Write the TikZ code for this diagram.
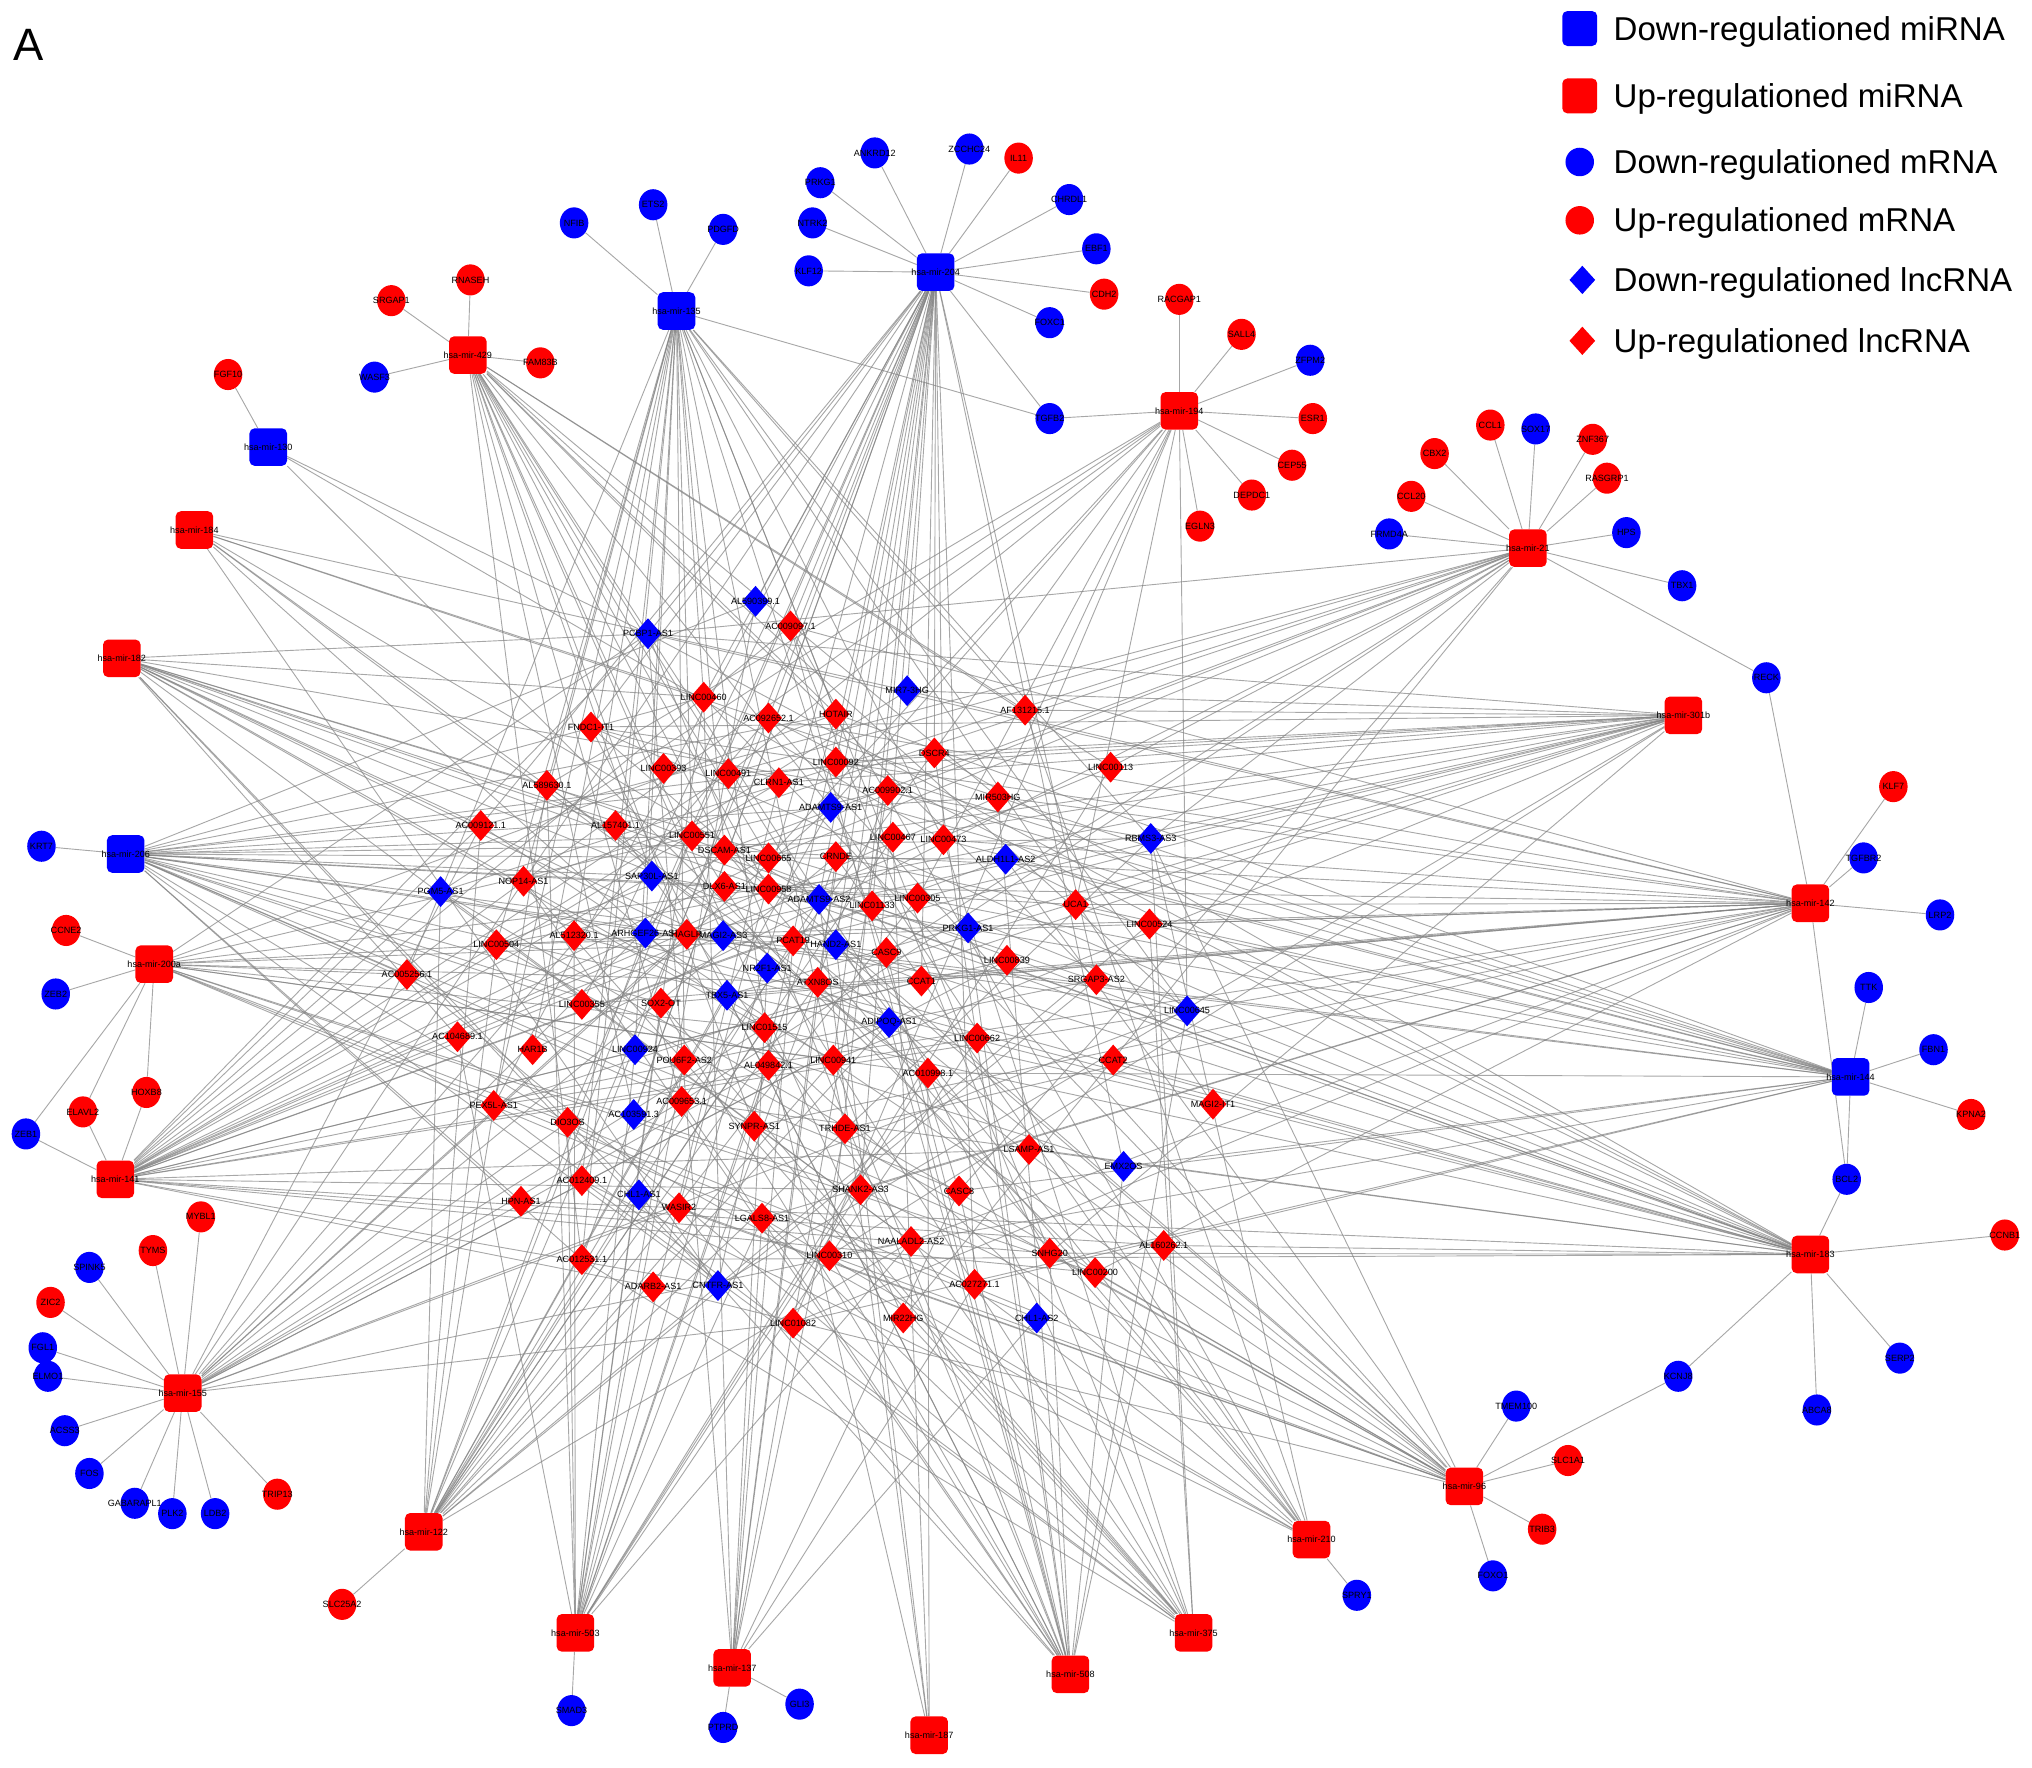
\documentclass[tikz,border=0pt]{standalone}
\usepackage{fontspec}
\setmainfont{Liberation Sans}
\usetikzlibrary{shapes.geometric}
\pgfdeclarelayer{bg}
\pgfdeclarelayer{paper}
\pgfsetlayers{paper,bg,main}
\definecolor{colB}{RGB}{0,0,255}
\definecolor{colR}{RGB}{255,0,0}
\definecolor{edgec}{RGB}{130,130,130}
\tikzset{
  lab/.style={font=\fontsize{7}{7}\selectfont, text=black, inner sep=0pt},
  txt/.style={label={[lab]center:#1}},
  mir/.style={rectangle, rounded corners=4pt, minimum width=29pt, minimum height=29pt, inner sep=0pt, fill=#1},
  mrn/.style={ellipse, minimum width=22pt, minimum height=24pt, inner sep=0pt, fill=#1},
  lnc/.style={diamond, minimum width=21pt, minimum height=24pt, inner sep=0pt, fill=#1},
  edge/.style={draw=edgec, line width=0.7pt, opacity=0.7},
  legtext/.style={font=\fontsize{25.5}{26}\selectfont, inner sep=0pt, anchor=base west}
}
\begin{document}
\begin{tikzpicture}[x=1pt,y=-1pt]
\useasboundingbox (0,0) rectangle (1568,1364);
\begin{pgfonlayer}{paper}
\fill[white] (0,0) rectangle (1568,1364);
\end{pgfonlayer}
\node[font=\fontsize{35}{35}\selectfont, inner sep=0pt, anchor=base west] (panel) at (10,47) {A};
% legend
\node[mir=colB, minimum width=27pt, minimum height=27pt] (lg1) at (1219,22) {};
\node[legtext] (lt1) at (1245,31) {Down-regulationed miRNA};
\node[mir=colR, minimum width=27pt, minimum height=27pt] (lg2) at (1219,74) {};
\node[legtext] (lt2) at (1245,83) {Up-regulationed miRNA};
\node[circle, minimum size=22pt, inner sep=0pt, fill=colB] (lg3) at (1219,125) {};
\node[legtext] (lt3) at (1245,134) {Down-regulationed mRNA};
\node[circle, minimum size=22pt, inner sep=0pt, fill=colR] (lg4) at (1219,170) {};
\node[legtext] (lt4) at (1245,179) {Up-regulationed mRNA};
\node[lnc=colB, minimum width=20pt, minimum height=22pt] (lg5) at (1221,216) {};
\node[legtext] (lt5) at (1245,225) {Down-regulationed lncRNA};
\node[lnc=colR, minimum width=20pt, minimum height=22pt] (lg6) at (1221,263) {};
\node[legtext] (lt6) at (1245,272) {Up-regulationed lncRNA};

% miRNAs
\foreach \n/\x/\y/\c/\t in {
 m135/522/240/colB/hsa-mir-135, m204/722/210/colB/hsa-mir-204, m130/207/345/colB/hsa-mir-130,
 m206/97/659/colB/hsa-mir-206, m144/1428/831/colB/hsa-mir-144,
 m429/361/274/colR/hsa-mir-429, m184/150/409/colR/hsa-mir-184, m182/94/508/colR/hsa-mir-182,
 m200a/119/744/colR/hsa-mir-200a, m141/89/910/colR/hsa-mir-141, m155/141/1075/colR/hsa-mir-155,
 m122/327/1182/colR/hsa-mir-122, m503/444/1260/colR/hsa-mir-503, m137/565/1287/colR/hsa-mir-137,
 m187/717/1339/colR/hsa-mir-187, m508/826/1292/colR/hsa-mir-508, m375/921/1260/colR/hsa-mir-375,
 m210/1012/1188/colR/hsa-mir-210, m96/1130/1147/colR/hsa-mir-96, m183/1397/968/colR/hsa-mir-183,
 m142/1397/697/colR/hsa-mir-142, m301b/1299/552/colR/hsa-mir-301b, m21/1179/423/colR/hsa-mir-21,
 m194/910/317/colR/hsa-mir-194}
 { \node[mir=\c, txt=\t] (\n) at (\x,\y) {}; }

% mRNAs
\foreach \n/\x/\y/\c/\t in {
 NFIB/443/172/colB/NFIB, ETSb/504/158/colB/ETS2, PDGFD/558/177/colB/PDGFD,
 ANKRD/675/118/colB/ANKRD12, ZCCHC/748/115/colB/ZCCHC24, IL11/786/122/colR/IL11,
 PRKG/633/141/colB/PRKG1, NTRK/627/172/colB/NTRK2, KLF12/624/209/colB/KLF12,
 CHRDL/825/154/colB/CHRDL1, EBF1/846/192/colB/EBF1, CDH2/852/227/colR/CDH2,
 FOXC/810/249/colB/FOXC1, TGFB/810/323/colB/TGFB2,
 RACGAP/910/231/colR/RACGAP1, SALL/958/258/colR/SALL4, ZFPM/1011/278/colB/ZFPM2,
 ESR/1013/323/colR/ESR1, CEP/997/359/colR/CEP55, DEPDC/966/382/colR/DEPDC1, EGLN/926/406/colR/EGLN3,
 CBX/1107/350/colR/CBX2, CCLa/1150/328/colR/CCL1, SOX/1185/331/colB/SOX17, ZNF/1229/339/colR/ZNF367,
 RASG/1240/369/colR/RASGRP1, CCLb/1089/383/colR/CCL20, FRMD/1072/412/colB/FRMD4A, HPS/1255/411/colB/HPS,
 TBX/1298/452/colB/TBX1, RECK/1363/523/colB/RECK,
 KLF7/1461/607/colR/KLF7, TGFBR/1438/662/colB/TGFBR2, LRP/1497/706/colB/LRP2,
 TTK/1442/762/colB/TTK, FBN/1492/810/colB/FBN1, KPNA/1521/860/colR/KPNA2, BCL/1425/910/colB/BCL2,
 CCNB/1547/953/colR/CCNB1, SERP/1466/1048/colB/SERP2, ABCA/1402/1088/colB/ABCA8, KCNJ/1295/1062/colB/KCNJ8,
 TMEM/1170/1085/colB/TMEM100, SLC1/1210/1127/colR/SLC1A1, TRIB/1190/1180/colR/TRIB3, FOXO/1152/1216/colB/FOXO1,
 SPRY/1047/1231/colB/SPRY1, PTPRD/558/1333/colB/PTPRD, GLI/617/1315/colB/GLI3, SMAD/441/1320/colB/SMAD3,
 SLC25/264/1238/colR/SLC25A2,
 MYBL/155/939/colR/MYBL1, TYMS/118/965/colR/TYMS, SPINK/69/978/colB/SPINK5, ZIC/39/1005/colR/ZIC2,
 FGL/33/1040/colB/FGL1, ELMO/37/1062/colB/ELMO1, ACSS/50/1104/colB/ACSS3, FOS/69/1137/colB/FOS,
 GABA/104/1160/colB/GABARAPL1, PLK/133/1168/colB/PLK2, LDB/166/1168/colB/LDB2, TRIP/214/1153/colR/TRIP13,
 CCNE/51/718/colR/CCNE2, ZEBb/43/767/colB/ZEB2, ELAV/64/858/colR/ELAVL2, HOXB/113/843/colR/HOXB8,
 ZEBa/20/875/colB/ZEB1, KRT/32/653/colB/KRT7, FGF/176/289/colR/FGF10,
 SRGAP/302/232/colR/SRGAP1, RNASE/363/216/colR/RNASEH, FAM/417/280/colR/FAM83B, WASF/289/291/colB/WASF3}
 { \node[mrn=\c, txt=\t] (\n) at (\x,\y) {}; }

% lncRNAs
\foreach [count=\i] \x/\y/\c/\t in {
 583/464/colB/AL590399.1, 500/489/colB/PCBP1-AS1, 700/533/colB/MIR7-3HG, 641/623/colB/ADAMTS9-AS1,
 888/647/colB/RBMS3-AS3, 776/663/colB/ALDH1L1-AS2, 340/688/colB/PGM5-AS1, 503/676/colB/SAP30L-AS1,
 632/694/colB/ADAMTS9-AS2, 747/716/colB/PRKG1-AS1, 498/720/colB/ARHGEF26-AS1, 558/722/colB/MAGI2-AS3,
 645/729/colB/HAND2-AS1, 592/747/colB/NR2F1-AS1, 561/768/colB/TBX5-AS1, 686/789/colB/ADIPOQ-AS1,
 490/810/colB/LINC00924, 916/780/colB/LINC00645, 489/860/colB/AC103591.3, 867/900/colB/EMX2OS,
 493/922/colB/CHL1-AS1, 554/992/colB/CNTFR-AS1, 800/1017/colB/CHL1-AS2,
 610/483/colR/AC009097.1, 543/538/colR/LINC00460, 593/554/colR/AC092652.1, 645/551/colR/HOTAIR,
 791/548/colR/AF131215.1, 456/561/colR/FNDC1-IT1, 721/581/colR/DSCR4, 512/593/colR/LINC00393,
 562/597/colR/LINC00491, 601/604/colR/CLRN1-AS1, 645/588/colR/LINC00092, 685/610/colR/AC009902.1,
 857/592/colR/LINC00113, 770/615/colR/MIR503HG, 422/606/colR/AL589630.1, 371/637/colR/AC009121.1,
 475/637/colR/AL157401.1, 534/645/colR/LINC00551, 559/656/colR/DSCAM-AS1, 593/662/colR/LINC00665,
 645/661/colR/CRNDE, 689/646/colR/LINC00467, 728/648/colR/LINC00473, 404/680/colR/NOP14-AS1,
 559/684/colR/DLX6-AS1, 593/686/colR/LINC00958, 673/699/colR/LINC01133, 708/693/colR/LINC00305,
 830/698/colR/UCA1, 887/713/colR/LINC00524, 383/729/colR/LINC00504, 443/722/colR/AL512320.1,
 530/721/colR/HAGLR, 612/726/colR/PCAT19, 684/735/colR/CASC9, 777/741/colR/LINC00839,
 711/757/colR/CCAT1, 631/758/colR/ATXN8OS, 314/752/colR/AC005256.1, 846/756/colR/SRGAP3-AS2,
 449/775/colR/LINC00355, 510/774/colR/SOX2-OT, 590/793/colR/LINC01515, 353/800/colR/AC104689.1,
 411/810/colR/HAR1B, 528/818/colR/POU6F2-AS2, 593/822/colR/AL049842.1, 643/818/colR/LINC00941,
 754/801/colR/LINC00662, 716/828/colR/AC010998.1, 859/818/colR/CCAT2, 526/850/colR/AC009653.1,
 381/853/colR/PEX5L-AS1, 438/866/colR/DIO3OS, 582/869/colR/SYNPR-AS1, 652/871/colR/TRHDE-AS1,
 936/852/colR/MAGI2-IT1, 794/887/colR/LSAMP-AS1, 402/927/colR/HPN-AS1, 449/911/colR/AC012409.1,
 524/932/colR/WASIR2, 664/918/colR/SHANK2-AS3, 740/919/colR/CASC8, 588/940/colR/LGALS8-AS1,
 449/972/colR/AC012531.1, 640/969/colR/LINC00310, 703/958/colR/NAALADL2-AS2, 504/993/colR/ADARB2-AS1,
 612/1021/colR/LINC01082, 697/1017/colR/MIR22HG, 810/967/colR/SNHG20, 752/991/colR/AC027271.1,
 845/982/colR/LINC00200, 898/961/colR/AL160262.1}
 { \node[lnc=\c, txt=\t] (l\i) at (\x,\y) {}; }

\begin{pgfonlayer}{bg}
% miRNA - mRNA
\foreach \a/\b in {
 m135/NFIB, m135/ETSb, m135/PDGFD, m135/TGFB,
 m204/ANKRD, m204/ZCCHC, m204/IL11, m204/PRKG, m204/NTRK, m204/KLF12, m204/CHRDL, m204/EBF1,
 m204/CDH2, m204/FOXC, m204/TGFB,
 m194/TGFB, m194/RACGAP, m194/SALL, m194/ZFPM, m194/ESR, m194/CEP, m194/DEPDC, m194/EGLN,
 m21/CBX, m21/CCLa, m21/SOX, m21/ZNF, m21/RASG, m21/CCLb, m21/FRMD, m21/HPS, m21/TBX, m21/RECK,
 m142/RECK, m142/KLF7, m142/TGFBR, m142/LRP, m142/BCL,
 m144/TTK, m144/FBN, m144/KPNA, m144/BCL,
 m183/BCL, m183/CCNB, m183/SERP, m183/ABCA, m183/KCNJ,
 m96/KCNJ, m96/TMEM, m96/SLC1, m96/TRIB, m96/FOXO,
 m210/SPRY, m137/PTPRD, m137/GLI, m503/SMAD, m122/SLC25,
 m155/MYBL, m155/TYMS, m155/SPINK, m155/ZIC, m155/FGL, m155/ELMO, m155/ACSS, m155/FOS,
 m155/GABA, m155/PLK, m155/LDB, m155/TRIP,
 m200a/CCNE, m200a/ZEBb, m200a/ZEBa, m200a/ELAV, m200a/HOXB,
 m141/ZEBa, m141/ELAV, m141/HOXB,
 m206/KRT, m130/FGF,
 m429/SRGAP, m429/RNASE, m429/FAM, m429/WASF}
 { \draw[edge] (\a) -- (\b); }
\draw[edge] (m194) -- (l18);
% miRNA - lncRNA
\pgfmathsetseed{20240}
\foreach \m/\p in {m204/0.36, m135/0.30, m429/0.20, m184/0.13, m182/0.16, m130/0.04,
 m206/0.26, m200a/0.16, m141/0.25, m155/0.20, m122/0.26, m503/0.21, m137/0.16,
 m187/0.06, m508/0.16, m375/0.20, m210/0.12, m96/0.24, m183/0.25, m144/0.26,
 m142/0.30, m301b/0.22, m21/0.13, m194/0.12}
{
  \foreach \i in {1,...,97}
  {
    \pgfmathtruncatemacro\hit{rnd<\p ? 1 : 0}
    \ifnum\hit=1 \draw[edge] (\m) -- (l\i); \fi
  }
}
\end{pgfonlayer}
\end{tikzpicture}
\end{document}
